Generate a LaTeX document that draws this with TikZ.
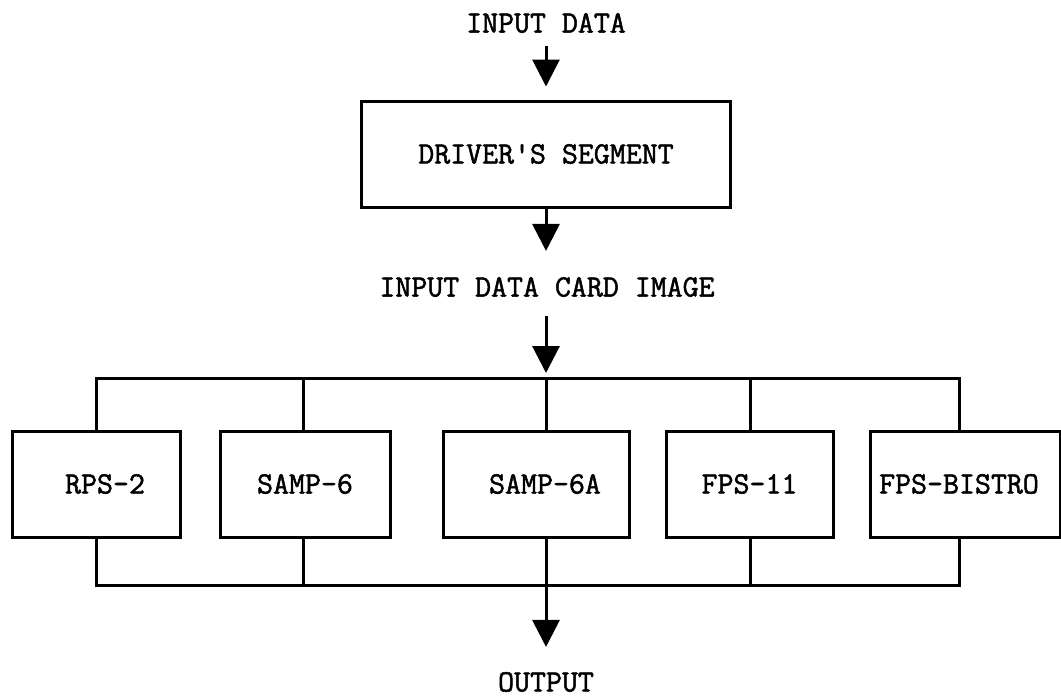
\documentclass[tikz,border=0pt]{standalone}
\usepackage{fontspec}
\newfontfamily\typefont{Latin Modern Mono}[FakeBold=1.6]
\usetikzlibrary{arrows.meta}
\newcommand\diagfont{\typefont\fontsize{31}{35}\selectfont}
\begin{document}
\begin{tikzpicture}[x=1pt,y=-1pt,
  wire/.style={line width=3pt},
  flow/.style={line width=3pt,-{Triangle[width=27pt,length=27pt]}},
  blk/.style={draw,line width=3pt,minimum height=106pt,inner sep=0pt,font=\diagfont},
  lbl/.style={inner sep=0pt,font=\diagfont}]
\useasboundingbox (0,0) rectangle (1061,697);

% labels and driver
\node[lbl] (in) at (546,23) {INPUT DATA};
\node[blk,minimum width=369pt] (drv) at (546,154) {DRIVER'S SEGMENT};
\node[lbl] (card) at (547,287) {INPUT DATA CARD IMAGE};
\node[lbl] (out) at (546,682) {OUTPUT};

% processing segments (some names sit a little off centre)
\node[blk,minimum width=168pt,label={[lbl,xshift=9pt]center:RPS-2}] (rps) at (96,484) {};
\node[blk,minimum width=170pt] (s6) at (305,484) {SAMP-6};
\node[blk,minimum width=186pt,label={[lbl,xshift=9pt]center:SAMP-6A}] (s6a) at (536,484) {};
\node[blk,minimum width=167pt] (f11) at (749.5,484) {FPS-11};
\node[blk,minimum width=190pt,label={[lbl,xshift=-6pt]center:FPS-BISTRO}] (fb) at (965,484) {};

% bus taps
\coordinate (t1) at (96,378);  \coordinate (b1) at (96,585);
\coordinate (t2) at (303,378); \coordinate (b2) at (303,585);
\coordinate (t3) at (546,378); \coordinate (b3) at (546,585);
\coordinate (t4) at (750,378); \coordinate (b4) at (750,585);
\coordinate (t5) at (959,378); \coordinate (b5) at (959,585);

% main flow
\draw[flow,shorten <=13pt,shorten >=13pt] (in.south) -- (drv.north);
\draw[flow,shorten >=26pt] (drv.south) -- (drv.south |- card.north);
\draw[flow,shorten <=19pt,shorten >=5pt] (card.south -| t3) -- (t3);
\draw[flow,shorten >=25pt] (s6a.south -| b3) -- (out.north);

% input bus
\draw[wire] (rps.north -| t1) -- (t1) -- (t5) -- (fb.north -| t5);
\draw[wire] (t2) -- (s6.north -| t2);
\draw[wire] (t3) -- (s6a.north -| t3);
\draw[wire] (t4) -- (f11.north -| t4);

% output bus
\draw[wire] (rps.south -| b1) -- (b1) -- (b5) -- (fb.south -| b5);
\draw[wire] (s6.south -| b2) -- (b2);
\draw[wire] (f11.south -| b4) -- (b4);
\end{tikzpicture}
\end{document}
